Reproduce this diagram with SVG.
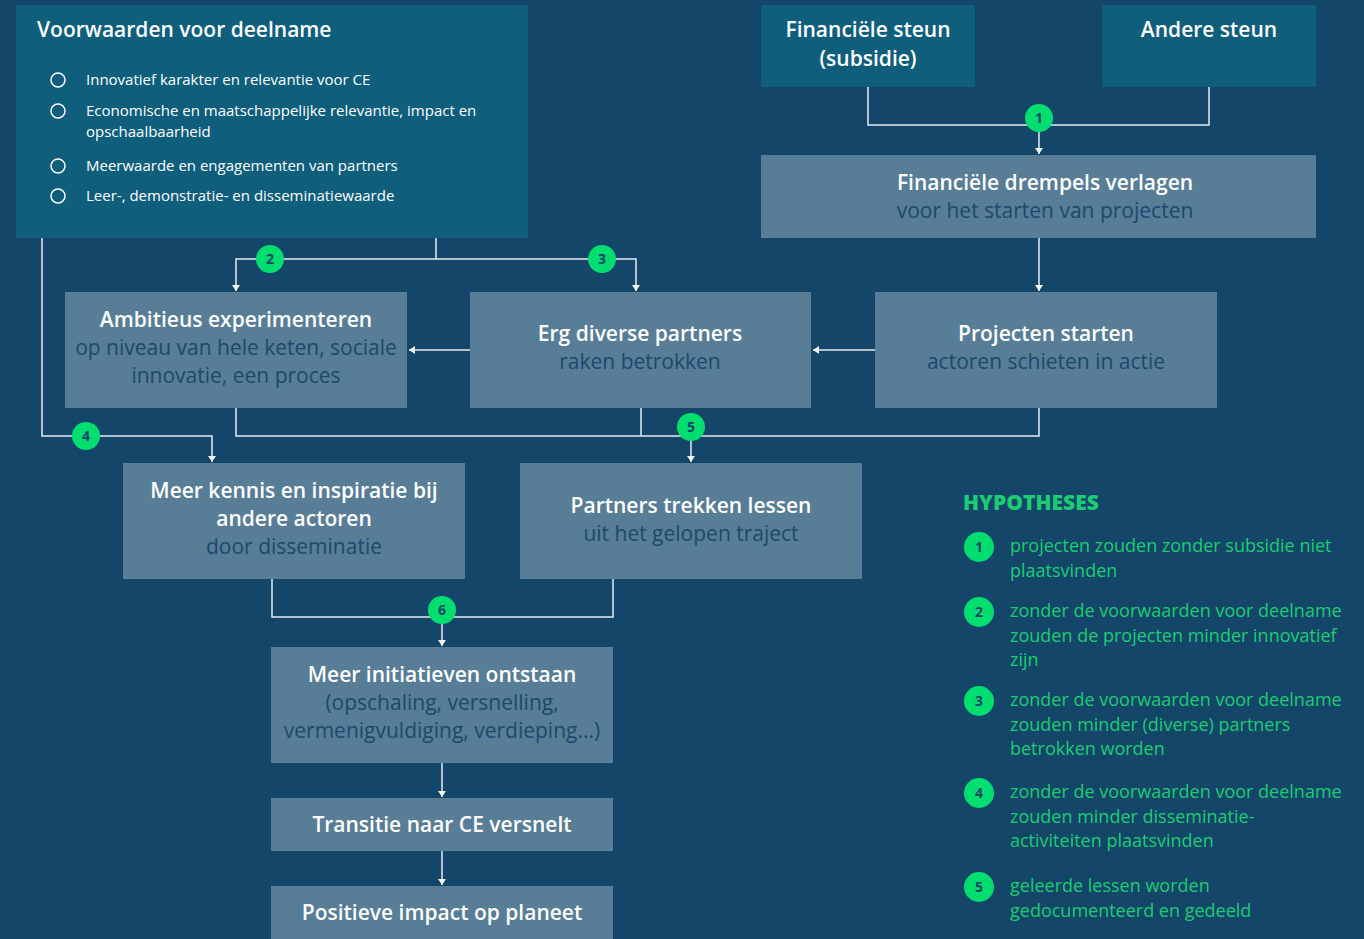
<svg xmlns="http://www.w3.org/2000/svg" width="1364" height="939" viewBox="0 0 1364 939">
<defs>
<marker id="ah" viewBox="0 0 6 10" refX="6" refY="5" markerWidth="6" markerHeight="10" markerUnits="userSpaceOnUse" orient="auto">
<path d="M0,1 L6,5 L0,9 Z" fill="#f2f5f7"/>
</marker>
<style>
.dark{fill:#0e5e7c}
.light{fill:#587d96}
.ttl{font-family:"Open Sans","Noto Sans",sans-serif;font-weight:600;fill:#ffffff;font-size:21px}
.sub{font-family:"Open Sans","Noto Sans",sans-serif;fill:#1b4a6c;font-size:21px}
.bul{font-family:"Open Sans","Noto Sans",sans-serif;fill:#ffffff;font-size:15px}
.hyp{font-family:"Open Sans","Noto Sans",sans-serif;fill:#1dcc72;font-size:18px}
.bnum{font-family:"Open Sans","Noto Sans",sans-serif;font-weight:700;fill:#134669;font-size:14px}
.badge{fill:#00de70}
.ln{fill:none;stroke:#e6ecf0;stroke-width:1.5}
.arr{fill:none;stroke:#e6ecf0;stroke-width:1.5;marker-end:url(#ah)}
</style>
</defs>
<rect x="0" y="0" width="1364" height="939" fill="#134669"/>

<g id="connectors">
<polyline class="ln" points="868,87 868,125 1209,125 1209,87"/>
<line class="arr" x1="1039" y1="125" x2="1039" y2="154"/>
<line class="arr" x1="1039" y1="238" x2="1039" y2="291"/>
<line class="arr" x1="875" y1="350" x2="813" y2="350"/>
<line class="arr" x1="470" y1="350" x2="409" y2="350"/>
<line class="ln" x1="436" y1="238" x2="436" y2="259"/>
<polyline class="arr" points="436,259 236,259 236,291"/>
<polyline class="arr" points="436,259 636,259 636,291"/>
<polyline class="arr" points="42,238 42,436 212,436 212,462"/>
<polyline class="ln" points="236,408 236,436 1039,436 1039,408"/>
<line class="ln" x1="641" y1="408" x2="641" y2="436"/>
<line class="arr" x1="691" y1="436" x2="691" y2="462"/>
<polyline class="ln" points="272,579 272,617 613,617 613,579"/>
<line class="arr" x1="442" y1="617" x2="442" y2="646"/>
<line class="arr" x1="442" y1="763" x2="442" y2="797"/>
<line class="arr" x1="442" y1="851" x2="442" y2="885"/>
<g id="badges">
<circle class="badge" cx="1039" cy="118" r="14"/><text class="bnum" x="1039" y="123" text-anchor="middle">1</text>
<circle class="badge" cx="270" cy="259" r="14"/><text class="bnum" x="270" y="264" text-anchor="middle">2</text>
<circle class="badge" cx="602" cy="259" r="14"/><text class="bnum" x="602" y="264" text-anchor="middle">3</text>
<circle class="badge" cx="86" cy="436" r="14"/><text class="bnum" x="86" y="441" text-anchor="middle">4</text>
<circle class="badge" cx="691" cy="427" r="14"/><text class="bnum" x="691" y="432" text-anchor="middle">5</text>
<circle class="badge" cx="442" cy="610" r="14"/><text class="bnum" x="442" y="615" text-anchor="middle">6</text>
</g>
</g>

<g id="voorwaarden">
<rect class="dark" x="16" y="5" width="512" height="233"/>
<text class="ttl" x="37" y="37">Voorwaarden voor deelname</text>
<g fill="none" stroke="#ffffff" stroke-width="1.5">
<circle cx="58" cy="80" r="7"/>
<circle cx="58" cy="111" r="7"/>
<circle cx="58" cy="166" r="7"/>
<circle cx="58" cy="196" r="7"/>
</g>
<text class="bul" x="86" y="85">Innovatief karakter en relevantie voor CE</text>
<text class="bul" x="86" y="116">Economische en maatschappelijke relevantie, impact en</text>
<text class="bul" x="86" y="137">opschaalbaarheid</text>
<text class="bul" x="86" y="171">Meerwaarde en engagementen van partners</text>
<text class="bul" x="86" y="201">Leer-, demonstratie- en disseminatiewaarde</text>
</g>

<g id="financiele-steun">
<rect class="dark" x="761" y="5" width="214" height="82"/>
<text class="ttl" x="868" y="37" text-anchor="middle">Financiële steun</text>
<text class="ttl" x="868" y="66" text-anchor="middle">(subsidie)</text>
</g>

<g id="andere-steun">
<rect class="dark" x="1102" y="5" width="214" height="82"/>
<text class="ttl" x="1209" y="37" text-anchor="middle">Andere steun</text>
</g>

<g id="drempels">
<rect class="light" x="761" y="155" width="555" height="83"/>
<text class="ttl" x="1045" y="190" text-anchor="middle">Financiële drempels verlagen</text>
<text class="sub" x="1045" y="218" text-anchor="middle">voor het starten van projecten</text>
</g>

<g id="ambitieus">
<rect class="light" x="65" y="292" width="342" height="116"/>
<text class="ttl" x="236" y="327" text-anchor="middle">Ambitieus experimenteren</text>
<text class="sub" x="236" y="355" text-anchor="middle">op niveau van hele keten, sociale</text>
<text class="sub" x="236" y="383" text-anchor="middle">innovatie, een proces</text>
</g>

<g id="erg-diverse">
<rect class="light" x="470" y="292" width="341" height="116"/>
<text class="ttl" x="640" y="341" text-anchor="middle">Erg diverse partners</text>
<text class="sub" x="640" y="369" text-anchor="middle">raken betrokken</text>
</g>

<g id="projecten-starten">
<rect class="light" x="875" y="292" width="342" height="116"/>
<text class="ttl" x="1046" y="341" text-anchor="middle">Projecten starten</text>
<text class="sub" x="1046" y="369" text-anchor="middle">actoren schieten in actie</text>
</g>

<g id="meer-kennis">
<rect class="light" x="123" y="463" width="342" height="116"/>
<text class="ttl" x="294" y="498" text-anchor="middle">Meer kennis en inspiratie bij</text>
<text class="ttl" x="294" y="526" text-anchor="middle">andere actoren</text>
<text class="sub" x="294" y="554" text-anchor="middle">door disseminatie</text>
</g>

<g id="partners-lessen">
<rect class="light" x="520" y="463" width="342" height="116"/>
<text class="ttl" x="691" y="513" text-anchor="middle">Partners trekken lessen</text>
<text class="sub" x="691" y="541" text-anchor="middle">uit het gelopen traject</text>
</g>

<g id="meer-initiatieven">
<rect class="light" x="271" y="647" width="342" height="116"/>
<text class="ttl" x="442" y="682" text-anchor="middle">Meer initiatieven ontstaan</text>
<text class="sub" x="442" y="710" text-anchor="middle">(opschaling, versnelling,</text>
<text class="sub" x="442" y="738" text-anchor="middle">vermenigvuldiging, verdieping...)</text>
</g>

<g id="transitie">
<rect class="light" x="271" y="798" width="342" height="53"/>
<text class="ttl" x="442" y="832" text-anchor="middle">Transitie naar CE versnelt</text>
</g>

<g id="positieve-impact">
<rect class="light" x="271" y="886" width="342" height="60"/>
<text class="ttl" x="442" y="920" text-anchor="middle">Positieve impact op planeet</text>
</g>

<g id="hypotheses">
<text x="963" y="510" font-family="Open Sans, Noto Sans, sans-serif" font-weight="800" font-size="21" fill="#1dcc72">HYPOTHESES</text>
<circle class="badge" cx="979" cy="547" r="15"/><text class="bnum" x="979" y="552" text-anchor="middle">1</text>
<circle class="badge" cx="979" cy="612" r="15"/><text class="bnum" x="979" y="617" text-anchor="middle">2</text>
<circle class="badge" cx="979" cy="701" r="15"/><text class="bnum" x="979" y="706" text-anchor="middle">3</text>
<circle class="badge" cx="979" cy="793" r="15"/><text class="bnum" x="979" y="798" text-anchor="middle">4</text>
<circle class="badge" cx="979" cy="887" r="15"/><text class="bnum" x="979" y="892" text-anchor="middle">5</text>
<text class="hyp" x="1010" y="552">projecten zouden zonder subsidie niet</text>
<text class="hyp" x="1010" y="577">plaatsvinden</text>
<text class="hyp" x="1010" y="617">zonder de voorwaarden voor deelname</text>
<text class="hyp" x="1010" y="642">zouden de projecten minder innovatief</text>
<text class="hyp" x="1010" y="666">zijn</text>
<text class="hyp" x="1010" y="706">zonder de voorwaarden voor deelname</text>
<text class="hyp" x="1010" y="731">zouden minder (diverse) partners</text>
<text class="hyp" x="1010" y="755">betrokken worden</text>
<text class="hyp" x="1010" y="798">zonder de voorwaarden voor deelname</text>
<text class="hyp" x="1010" y="823">zouden minder disseminatie-</text>
<text class="hyp" x="1010" y="847">activiteiten plaatsvinden</text>
<text class="hyp" x="1010" y="892">geleerde lessen worden</text>
<text class="hyp" x="1010" y="917">gedocumenteerd en gedeeld</text>
</g>
</svg>
